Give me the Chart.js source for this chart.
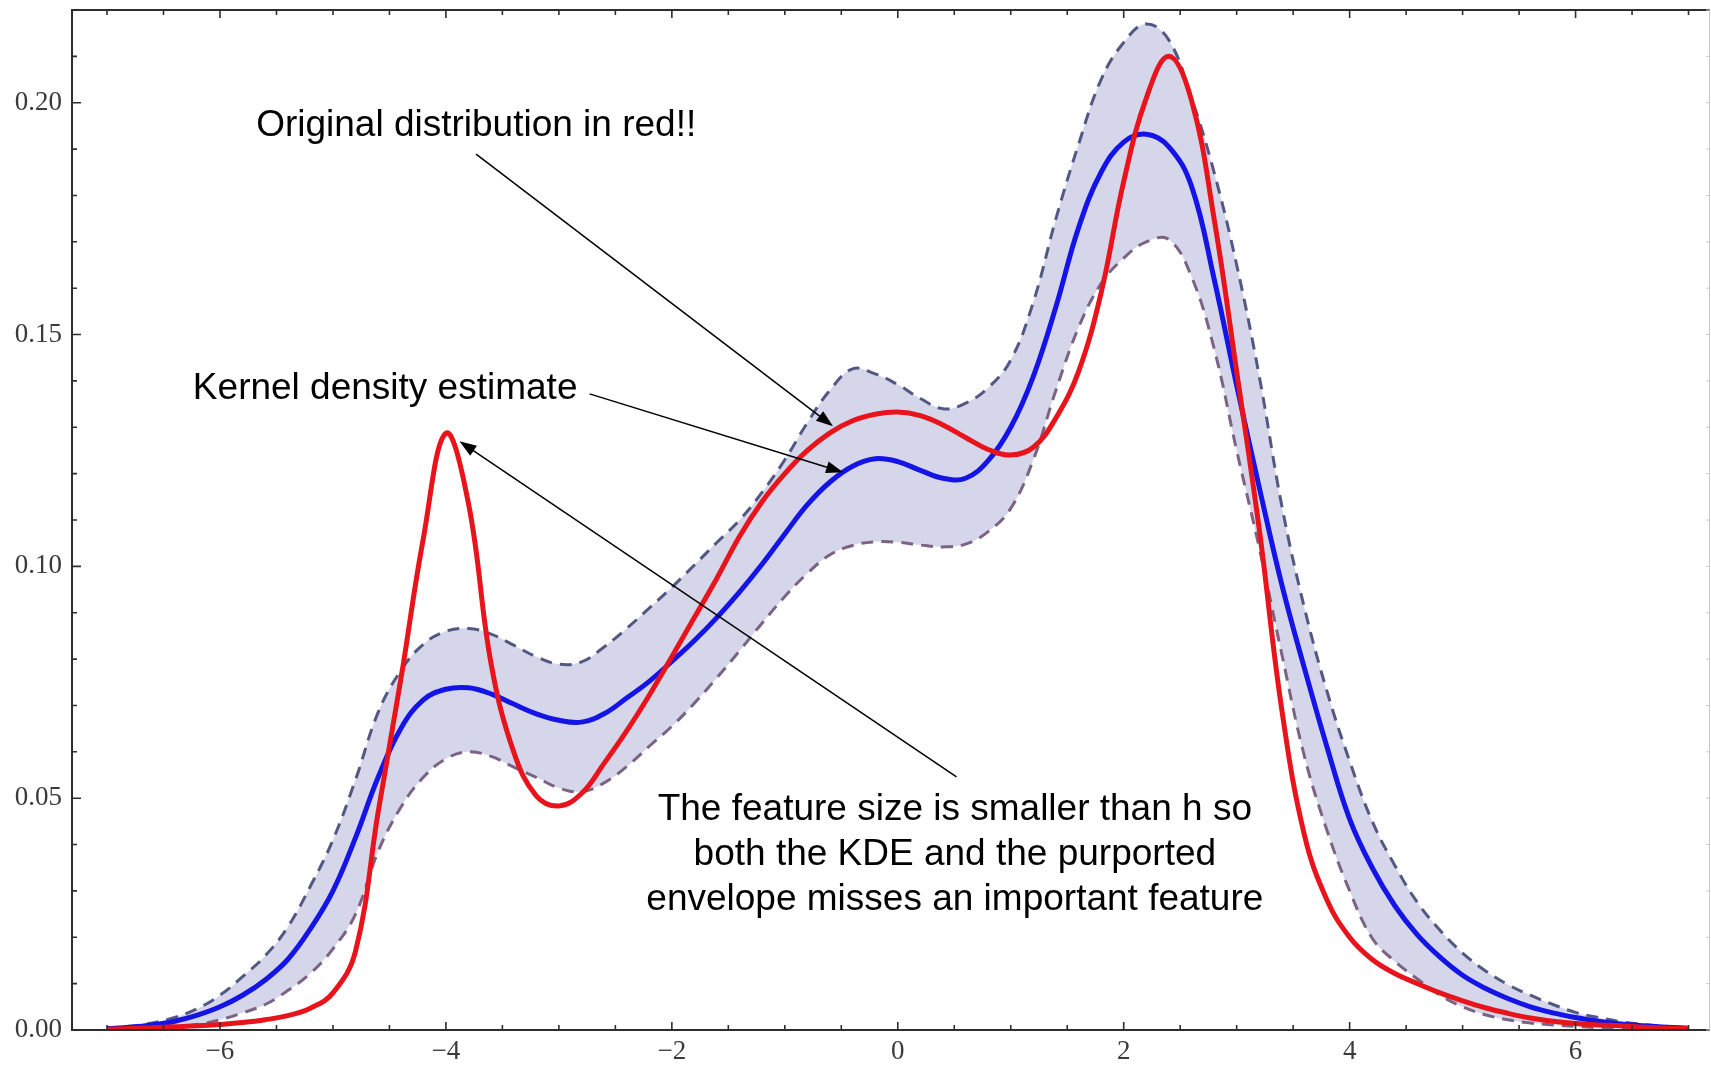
<!DOCTYPE html>
<html>
<head>
<meta charset="utf-8">
<title>KDE vs original distribution</title>
<script src="https://cdn.jsdelivr.net/npm/chart.js@4.4.1/dist/chart.umd.min.js"></script>
<style>
    html, body { margin: 0; padding: 0; background: #fff; }
    #wrap { width: 1711px; height: 1066px; }
</style>
</head>
<body>
<div id="wrap"><canvas id="kdeChart" width="1711" height="1066"></canvas></div>
<script>
// Sample positions (x) shared by all four curves
const xValues = [
    -7.0, -6.8, -6.6, -6.4, -6.2, -6.0, -5.8, -5.6, -5.4, -5.2,
    -5.0, -4.8, -4.6, -4.4, -4.2, -4.0, -3.8, -3.6, -3.4, -3.2,
    -3.0, -2.8, -2.6, -2.4, -2.2, -2.0, -1.8, -1.6, -1.4, -1.2,
    -1.0, -0.8, -0.6, -0.4, -0.2, 0.0, 0.2, 0.4, 0.6, 0.8,
    1.0, 1.2, 1.4, 1.6, 1.8, 2.0, 2.2, 2.4, 2.6, 2.8,
    3.0, 3.2, 3.4, 3.6, 3.8, 4.0, 4.2, 4.4, 4.6, 4.8,
    5.0, 5.2, 5.4, 5.6, 5.8, 6.0, 6.2, 6.4, 6.6, 6.8, 7.0
];

// Original distribution (red)
const originalDensity = [
    0.0002, 0.0003, 0.0005, 0.0007, 0.0009, 0.0012, 0.0016, 0.0022, 0.0031, 0.0047,
    0.0080, 0.0170, 0.0470, 0.0755, 0.1060, 0.1287, 0.1135, 0.0790, 0.0600, 0.0505,
    0.0483, 0.0510, 0.0575, 0.0645, 0.0722, 0.0805, 0.0890, 0.0975, 0.1065, 0.1140,
    0.1200, 0.1250, 0.1288, 0.1314, 0.1328, 0.1333, 0.1325, 0.1305, 0.1278, 0.1252,
    0.1240, 0.1257, 0.1320, 0.1420, 0.1590, 0.1830, 0.2010, 0.2100, 0.2005, 0.1750,
    0.1420, 0.1080, 0.0690, 0.0420, 0.0280, 0.0200, 0.0152, 0.0122, 0.0100, 0.0080,
    0.0063, 0.0048, 0.0036, 0.0026, 0.0019, 0.0014, 0.0011, 0.0009, 0.0006, 0.0004, 0.0003
];

// Kernel density estimate (blue)
const kdeEstimate = [
    0.0003, 0.0006, 0.0011, 0.0019, 0.0032, 0.0050, 0.0075, 0.0108, 0.0152, 0.0218,
    0.0300, 0.0415, 0.0545, 0.0650, 0.0712, 0.0735, 0.0738, 0.0725, 0.0703, 0.0682,
    0.0668, 0.0664, 0.0682, 0.0716, 0.0752, 0.0795, 0.0840, 0.0890, 0.0945, 0.1005,
    0.1070, 0.1133, 0.1182, 0.1216, 0.1232, 0.1226, 0.1207, 0.1190, 0.1190, 0.1228,
    0.1300, 0.1410, 0.1560, 0.1730, 0.1850, 0.1915, 0.1932, 0.1905, 0.1820, 0.1620,
    0.1390, 0.1170, 0.0960, 0.0780, 0.0610, 0.0455, 0.0350, 0.0268, 0.0205, 0.0157,
    0.0118, 0.0090, 0.0068, 0.0050, 0.0037, 0.0027, 0.0019, 0.0013, 0.0009, 0.0006, 0.0004
];

// Upper envelope (dashed)
const upperEnvelope = [
    0.0004, 0.0008, 0.0015, 0.0027, 0.0046, 0.0075, 0.0115, 0.0160, 0.0222, 0.0310,
    0.0410, 0.0540, 0.0685, 0.0775, 0.0832, 0.0860, 0.0866, 0.0854, 0.0830, 0.0805,
    0.0789, 0.0794, 0.0826, 0.0866, 0.0910, 0.0955, 0.1003, 0.1052, 0.1100, 0.1160,
    0.1230, 0.1310, 0.1380, 0.1426, 0.1415, 0.1392, 0.1362, 0.1340, 0.1352, 0.1385,
    0.1445, 0.1570, 0.1750, 0.1910, 0.2050, 0.2130, 0.2170, 0.2135, 0.2010, 0.1850,
    0.1650, 0.1410, 0.1130, 0.0910, 0.0730, 0.0580, 0.0450, 0.0355, 0.0275, 0.0215,
    0.0166, 0.0128, 0.0098, 0.0075, 0.0055, 0.0038, 0.0027, 0.0018, 0.0012, 0.0008, 0.0005
];

// Lower envelope (dashed)
const lowerEnvelope = [
    0.0001, 0.0002, 0.0004, 0.0007, 0.0012, 0.0022, 0.0037, 0.0055, 0.0085, 0.0122,
    0.0175, 0.0250, 0.0385, 0.0480, 0.0545, 0.0585, 0.0600, 0.0590, 0.0567, 0.0545,
    0.0522, 0.0514, 0.0533, 0.0568, 0.0612, 0.0655, 0.0705, 0.0760, 0.0818, 0.0878,
    0.0935, 0.0985, 0.1025, 0.1045, 0.1053, 0.1052, 0.1046, 0.1042, 0.1048, 0.1075,
    0.1125, 0.1230, 0.1380, 0.1515, 0.1610, 0.1665, 0.1700, 0.1705, 0.1625, 0.1470,
    0.1250, 0.1040, 0.0810, 0.0590, 0.0430, 0.0300, 0.0198, 0.0148, 0.0110, 0.0075,
    0.0050, 0.0033, 0.0022, 0.0015, 0.0011, 0.0008, 0.0005, 0.0003, 0.0002, 0.0001, 0.0001
];

// Tick labels
const xTickValues = [-6, -4, -2, 0, 2, 4, 6];
const yTickValues = [0, 0.05, 0.10, 0.15, 0.20];

// Annotation texts (anchored in data coordinates)
const noteTexts = [
    { text: "Original distribution in red!!", x: -5.68, y: 0.1929, align: "left" },
    { text: "Kernel density estimate", x: -6.24, y: 0.1362, align: "left" },
    { text: "The feature size is smaller than h so", x: 0.505, y: 0.0453, align: "center" },
    { text: "both the KDE and the purported", x: 0.505, y: 0.0356, align: "center" },
    { text: "envelope misses an important feature", x: 0.505, y: 0.0259, align: "center" }
];

// Arrows: from -> to (arrowhead at "to")
const noteArrows = [
    { from: [-3.733, 0.1889], to: [-0.573, 0.1302] },
    { from: [-2.728, 0.1372], to: [-0.484, 0.1203] },
    { from: [0.52, 0.0546], to: [-3.88, 0.1270] }
];

const toPoints = (ys) => xValues.map((x, i) => ({ x: x, y: ys[i] }));

const formatX = (v) => (v < 0 ? "\u2212" + Math.abs(v) : String(v));

// Frame with inward ticks, like the original plot
const framePlugin = {
    id: "frame",
    afterDraw(chart) {
        const { ctx, chartArea: a, scales: { x, y } } = chart;
        ctx.save();
        ctx.strokeStyle = "#2e2e2e";
        ctx.lineWidth = 2;
        ctx.beginPath();
        ctx.moveTo(a.right, a.top);
        ctx.lineTo(a.left, a.top);
        ctx.lineTo(a.left, a.bottom);
        ctx.lineTo(a.right, a.bottom);
        ctx.stroke();

        ctx.lineWidth = 1.6;
        ctx.beginPath();
        for (let i = -14; i <= 14; i++) {
            const px = x.getPixelForValue(i / 2);
            const len = i % 4 === 0 ? 8 : 5;
            ctx.moveTo(px, a.bottom);
            ctx.lineTo(px, a.bottom - len);
            ctx.moveTo(px, a.top);
            ctx.lineTo(px, a.top + len);
        }
        for (let i = 0; i <= 22; i++) {
            const py = y.getPixelForValue(i / 100);
            const len = i % 5 === 0 ? 9 : 5;
            ctx.moveTo(a.left, py);
            ctx.lineTo(a.left + len, py);
        }
        ctx.stroke();

        // right edge of the frame is barely visible in the original
        ctx.strokeStyle = "#c8c8c8";
        ctx.lineWidth = 1;
        ctx.beginPath();
        ctx.moveTo(a.right - 0.5, a.top);
        ctx.lineTo(a.right - 0.5, a.bottom);
        for (let i = 0; i <= 22; i++) {
            const py = y.getPixelForValue(i / 100);
            ctx.moveTo(a.right, py);
            ctx.lineTo(a.right - 4, py);
        }
        ctx.stroke();
        ctx.restore();
    }
};

function drawArrow(ctx, x1, y1, x2, y2) {
    const ang = Math.atan2(y2 - y1, x2 - x1);
    const head = 17, half = 6;
    const cos = Math.cos(ang), sin = Math.sin(ang);
    ctx.beginPath();
    ctx.moveTo(x1, y1);
    ctx.lineTo(x2 - head * 0.8 * cos, y2 - head * 0.8 * sin);
    ctx.stroke();
    ctx.beginPath();
    ctx.moveTo(x2, y2);
    ctx.lineTo(x2 - head * cos + half * sin, y2 - head * sin - half * cos);
    ctx.lineTo(x2 - head * cos - half * sin, y2 - head * sin + half * cos);
    ctx.closePath();
    ctx.fill();
}

const notesPlugin = {
    id: "notes",
    afterDatasetsDraw(chart) {
        const { ctx, scales: { x, y } } = chart;
        ctx.save();
        ctx.fillStyle = "#000";
        ctx.strokeStyle = "#000";
        ctx.lineWidth = 1.5;
        noteArrows.forEach((ar) => {
            drawArrow(ctx,
                x.getPixelForValue(ar.from[0]), y.getPixelForValue(ar.from[1]),
                x.getPixelForValue(ar.to[0]), y.getPixelForValue(ar.to[1]));
        });
        ctx.font = '37px "Liberation Sans", Arial, sans-serif';
        ctx.textBaseline = "alphabetic";
        noteTexts.forEach((n) => {
            ctx.textAlign = n.align;
            ctx.fillText(n.text, x.getPixelForValue(n.x), y.getPixelForValue(n.y));
        });
        ctx.restore();
    }
};

const tickFont = { family: '"Liberation Serif", "Times New Roman", serif', size: 27 };

function createChart() {
    const ctx = document.getElementById("kdeChart").getContext("2d");
    new Chart(ctx, {
        type: "line",
        data: {
            datasets: [
                { label: "Original", data: toPoints(originalDensity), borderColor: "#e8141c", borderWidth: 5, order: 0 },
                { label: "KDE", data: toPoints(kdeEstimate), borderColor: "#1414e6", borderWidth: 5, order: 1 },
                {
                    label: "Upper", data: toPoints(upperEnvelope), borderColor: "#535883", borderWidth: 3,
                    borderDash: [12, 8], fill: "+1", backgroundColor: "#d6d6ea", order: 2
                },
                { label: "Lower", data: toPoints(lowerEnvelope), borderColor: "#7b6384", borderWidth: 3, borderDash: [12, 8], order: 3 }
            ]
        },
        options: {
            responsive: false,
            animation: false,
            layout: { padding: { top: 10, right: 1, left: 0, bottom: 0 } },
            elements: {
                point: { radius: 0 },
                line: { tension: 0.4, fill: false }
            },
            plugins: {
                legend: { display: false },
                tooltip: { enabled: false },
                filler: { drawTime: "beforeDatasetsDraw" }
            },
            scales: {
                x: {
                    type: "linear",
                    min: -7.31,
                    max: 7.19,
                    grid: { display: false, drawTicks: false },
                    border: { display: false },
                    afterBuildTicks: (s) => { s.ticks = xTickValues.map((v) => ({ value: v })); },
                    afterFit: (s) => { s.height = 36; s.paddingLeft = 0; s.paddingRight = 0; },
                    ticks: {
                        padding: 6, autoSkip: false, maxRotation: 0,
                        color: "#3a3a3a", font: tickFont,
                        callback: (v) => formatX(v)
                    }
                },
                y: {
                    type: "linear",
                    min: 0,
                    max: 0.22,
                    grid: { display: false, drawTicks: false },
                    border: { display: false },
                    afterBuildTicks: (s) => { s.ticks = yTickValues.map((v) => ({ value: v })); },
                    afterFit: (s) => { s.width = 72; s.paddingTop = 0; s.paddingBottom = 0; },
                    ticks: {
                        padding: 10, autoSkip: false,
                        color: "#3a3a3a", font: tickFont,
                        callback: (v) => Number(v).toFixed(2)
                    }
                }
            }
        },
        plugins: [framePlugin, notesPlugin]
    });
}

document.addEventListener("DOMContentLoaded", createChart);
</script>
</body>
</html>
